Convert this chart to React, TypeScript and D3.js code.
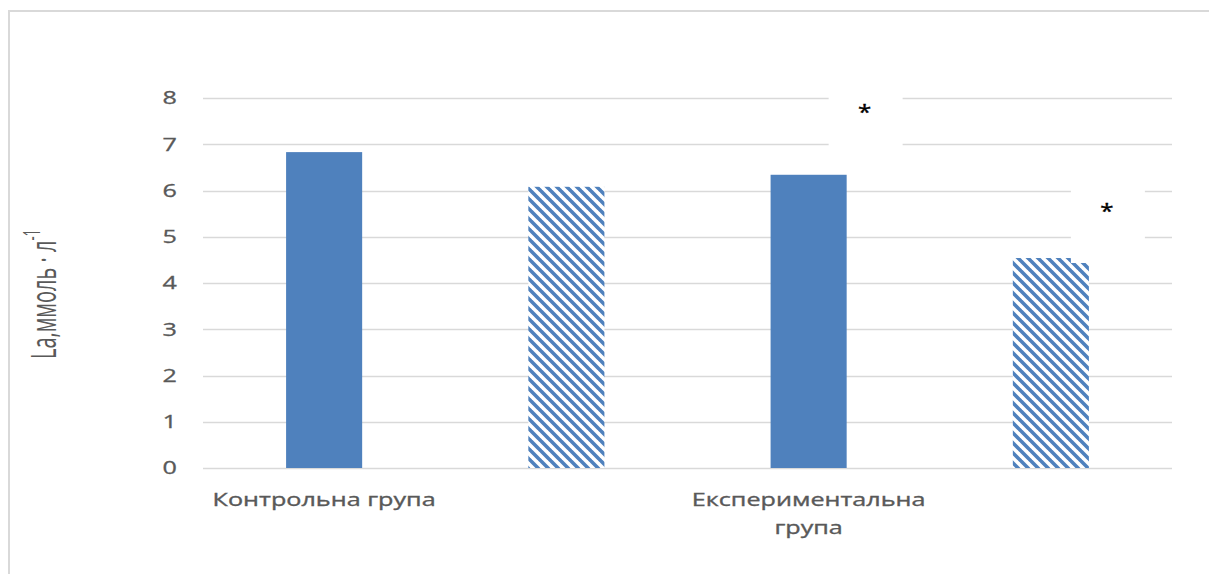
import React from 'react';
import * as d3 from 'd3';

// Bar chart: blood lactate (La, mmol·l⁻¹), control vs experimental group
const categories = ['Контрольна група', '', 'Експериментальна група', ''];
const values = [6.83, 6.08, 6.34, 4.54];
const fillKinds = ['solid', 'hatch', 'solid', 'hatch'];
const yTicks = [0, 1, 2, 3, 4, 5, 6, 7, 8];
const significance = ['', '', '*', '*'];
const significanceLevel = [0, 0, 7.75, 5.6];
const yTitle = 'La,ммоль · л';
const yTitleSup = '-1';

const W = 1209;
const H = 574;
const PLOT = { left: 203, right: 1172, top: 98, bottom: 468 };
const BLUE = '#4F81BD';
const GRID = '#D9D9D9';
const TEXT = '#595959';
const SX = 1.4; // horizontal glyph stretch of all labels
const TITLE_SX = 1.75;
const FONT = "'Open Sans', 'DejaVu Sans', sans-serif";
const LABEL_SIZE = 18;

function wrapLabel(label: string, maxWidth: number): string[] {
  if (!label) return [];
  const canvas = document.createElement('canvas');
  const ctx = canvas.getContext('2d');
  if (!ctx) return [label];
  ctx.font = `${LABEL_SIZE}px ${FONT}`;
  const words = label.split(' ');
  const lines: string[] = [];
  let line = '';
  for (const w of words) {
    const test = line ? line + ' ' + w : w;
    if (line && ctx.measureText(test).width * SX > maxWidth) {
      lines.push(line);
      line = w;
    } else {
      line = test;
    }
  }
  if (line) lines.push(line);
  return lines;
}

export default function App() {
  const x = d3
    .scaleBand<number>()
    .domain(d3.range(categories.length))
    .range([PLOT.left, PLOT.right])
    .paddingInner(0.686)
    .paddingOuter(0.343);
  const y = d3.scaleLinear().domain([0, 8]).range([PLOT.bottom, PLOT.top]);
  const bw = x.bandwidth();
  const step = x.step();

  return (
    <svg
      width={W}
      height={H}
      viewBox={`0 0 ${W} ${H}`}
      style={{ position: 'absolute', left: 0, top: 0, display: 'block', background: '#fff' }}
    >
      <defs>
        <pattern id="hatch" patternUnits="userSpaceOnUse" width={10} height={10}>
          <rect width={10} height={10} fill="#fff" />
          <path
            d="M-1,-1 L11,11 M9,-1 L11,1 M-1,9 L1,11"
            stroke={BLUE}
            strokeWidth={3.6}
            fill="none"
          />
        </pattern>
      </defs>

      {/* chart frame */}
      <line x1={9} x2={W} y1={11} y2={11} stroke={GRID} strokeWidth={2} />
      <line x1={9} x2={9} y1={10} y2={H} stroke={GRID} strokeWidth={2} />

      {/* gridlines */}
      {yTicks.map((t) => (
        <line
          key={t}
          x1={PLOT.left}
          x2={PLOT.right}
          y1={Math.round(y(t)) + 0.5}
          y2={Math.round(y(t)) + 0.5}
          stroke={GRID}
          strokeWidth={1.3}
        />
      ))}

      {/* y tick labels */}
      {yTicks.map((t) => (
        <text
          key={t}
          transform={`translate(177,${y(t)}) scale(${SX},1)`}
          textAnchor="end"
          dy="0.36em"
          fontFamily={FONT}
          fontSize={18}
          fill={TEXT}
          stroke={TEXT}
          strokeWidth={0.3}
        >
          {t}
        </text>
      ))}

      {/* bars */}
      {values.map((v, i) => (
        <rect
          key={i}
          x={x(i)}
          y={y(v)}
          width={bw}
          height={y(0) - y(v)}
          fill={fillKinds[i] === 'hatch' ? 'url(#hatch)' : BLUE}
        />
      ))}

      {/* category labels */}
      {categories.map((c, i) =>
        wrapLabel(c, step).map((line, j) => (
          <text
            key={`${i}-${j}`}
            transform={`translate(${(x(i) as number) + bw / 2},${506 + j * 28}) scale(${SX},1)`}
            textAnchor="middle"
            fontFamily={FONT}
            fontSize={LABEL_SIZE}
            fill={TEXT}
            stroke={TEXT}
            strokeWidth={0.35}
          >
            {line}
          </text>
        ))
      )}

      {/* significance markers on white boxes */}
      {significance.map((s, i) => {
        if (!s) return null;
        const cx = (x(i) as number) + bw / 2 + 56;
        const cy = y(significanceLevel[i]);
        return (
          <g key={`sig-${i}`}>
            <rect x={cx - 36} y={cy - 38} width={74} height={92} fill="#fff" />
            <text
              transform={`translate(${cx},${cy + 9}) scale(1.2,1)`}
              textAnchor="middle"
              fontFamily={FONT}
              fontSize={20}
              fill="#000"
              stroke="#000"
              strokeWidth={0.4}
            >
              {s}
            </text>
          </g>
        );
      })}

      {/* y axis title */}
      <text
        transform={`translate(56,229) scale(${TITLE_SX},1) rotate(-90)`}
        textAnchor="end"
        fontFamily={FONT}
        fontSize={20}
        fill={TEXT}
      >
        {yTitle}
        <tspan fontSize={13} dy={-9}>
          {yTitleSup}
        </tspan>
      </text>
    </svg>
  );
}
